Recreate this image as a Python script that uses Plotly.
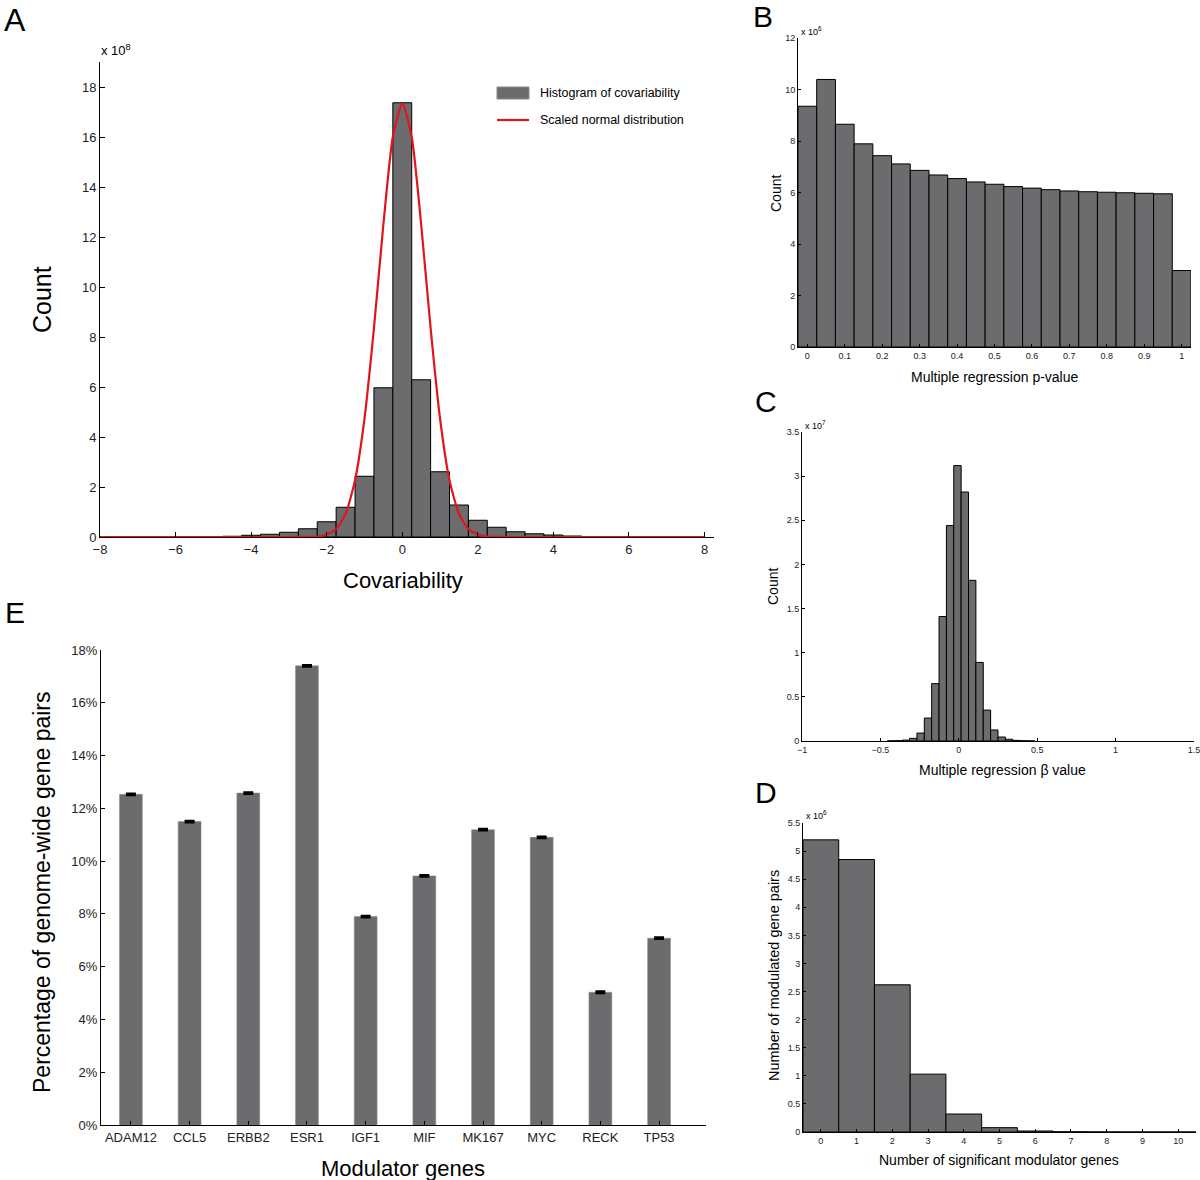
import plotly.graph_objects as go

# ---------------- Data ----------------
# Panel A: histogram of covariability (x 10^8)
a_centers = [-5.5, -5.0, -4.5, -4.0, -3.5, -3.0, -2.5, -2.0, -1.5, -1.0, -0.5, 0.0,
             0.5, 1.0, 1.5, 2.0, 2.5, 3.0, 3.5, 4.0, 4.5, 5.0, 5.5]
a_counts = [0.01, 0.02, 0.03, 0.07, 0.11, 0.19, 0.33, 0.61, 1.19, 2.43, 5.97, 17.37,
            6.29, 2.61, 1.28, 0.67, 0.39, 0.21, 0.13, 0.08, 0.04, 0.02, 0.01]
# Scaled normal curve
a_curve_x = [-8, -5, -3, -2.5, -2.25, -2.0, -1.75, -1.5, -1.25, -1.0, -0.75, -0.5, -0.25, 0.0,
             0.25, 0.5, 0.75, 1.0, 1.25, 1.5, 1.75, 2.0, 2.25, 2.5, 3, 5, 8]
a_curve_y = [0, 0, 0, 0.005, 0.02, 0.10, 0.32, 0.93, 2.27, 4.73, 8.35, 12.5, 16.0, 17.35,
             16.0, 12.5, 8.35, 4.73, 2.27, 0.93, 0.32, 0.10, 0.02, 0.005, 0, 0, 0]

# Panel B: multiple regression p-value histogram (x 10^6)
b_centers = [0.0, 0.05, 0.1, 0.15, 0.2, 0.25, 0.3, 0.35, 0.4, 0.45, 0.5,
             0.55, 0.6, 0.65, 0.7, 0.75, 0.8, 0.85, 0.9, 0.95, 1.0]
b_counts = [9.35, 10.39, 8.65, 7.89, 7.43, 7.11, 6.86, 6.68, 6.54, 6.41, 6.32,
            6.23, 6.17, 6.11, 6.06, 6.03, 6.01, 5.99, 5.97, 5.95, 2.97]

# Panel C: multiple regression beta value histogram (x 10^7)
c_centers = [-0.4315, -0.3845, -0.3375, -0.2905, -0.2435, -0.1965, -0.1495, -0.1025, -0.0555,
             -0.0085, 0.0385, 0.0855, 0.1325, 0.1795, 0.2265, 0.2735, 0.3205, 0.3675, 0.4145, 0.4615]
c_counts = [0.002, 0.004, 0.01, 0.03, 0.09, 0.26, 0.65, 1.41, 2.44,
            3.12, 2.82, 1.82, 0.89, 0.35, 0.125, 0.045, 0.02, 0.007, 0.003, 0.001]
c_binwidth = 0.047

# Panel D: number of significant modulator genes (x 10^6)
d_centers = [0, 1, 2, 3, 4, 5, 6, 7, 8, 9, 10]
d_counts = [5.2, 4.85, 2.62, 1.03, 0.32, 0.077, 0.018, 0.004, 0.001, 0.0, 0.0]

# Panel E: modulator genes
e_genes = ["ADAM12", "CCL5", "ERBB2", "ESR1", "IGF1", "MIF", "MK167", "MYC", "RECK", "TP53"]
e_values = [12.53, 11.50, 12.58, 17.40, 7.90, 9.44, 11.19, 10.90, 5.03, 7.08]
e_errors = [0.03, 0.03, 0.03, 0.03, 0.03, 0.03, 0.03, 0.03, 0.03, 0.03]
e_ticks = [0, 2, 4, 6, 8, 10, 12, 14, 16, 18]

# ---------------- Styling ----------------
W, H = 1200, 1180
FONT = "Liberation Sans, Arial, sans-serif"
GRAY = "#6c6c6e"
RED = "#e3131b"


def px(x):
    return x / W


def py(y):
    return 1 - y / H


fig = go.Figure()

# Panel A
fig.add_trace(go.Bar(x=a_centers, y=a_counts, width=0.5, marker=dict(color=GRAY, line=dict(color="black", width=1)),
                     xaxis="x", yaxis="y", showlegend=False))
fig.add_trace(go.Scatter(x=a_curve_x, y=a_curve_y, mode="lines", line=dict(color=RED, width=2.2, shape="spline", smoothing=0.6),
                         xaxis="x", yaxis="y", showlegend=False))
# Panel B
fig.add_trace(go.Bar(x=b_centers, y=b_counts, width=0.05, marker=dict(color=GRAY, line=dict(color="black", width=1)),
                     xaxis="x2", yaxis="y2", showlegend=False))
# Panel C
fig.add_trace(go.Bar(x=c_centers, y=c_counts, width=c_binwidth, marker=dict(color=GRAY, line=dict(color="black", width=1)),
                     xaxis="x3", yaxis="y3", showlegend=False))
# Panel D
fig.add_trace(go.Bar(x=d_centers, y=d_counts, width=1, marker=dict(color=GRAY, line=dict(color="black", width=1)),
                     xaxis="x4", yaxis="y4", showlegend=False))
# Panel E
fig.add_trace(go.Bar(x=e_genes, y=e_values, width=0.39, marker=dict(color=GRAY, line=dict(color="#8a8a8c", width=0.5)),
                     error_y=dict(type="data", array=e_errors, color="black", thickness=2.2, width=5),
                     xaxis="x5", yaxis="y5", showlegend=False))


def axis(domain, anchor, rng, tickvals=None, ticklen=5, size=13, **kw):
    d = dict(domain=domain, anchor=anchor, range=rng, showline=True, linecolor="black", linewidth=1,
             ticks="inside", ticklen=ticklen, tickcolor="black", tickwidth=1, showgrid=False, zeroline=False,
             tickfont=dict(family=FONT, size=size, color="#222"), fixedrange=True,
             ticklabeloverflow="allow", automargin=False)
    if tickvals is not None:
        d["tickvals"] = tickvals
    d.update(kw)
    return d


layout = dict(
    width=W, height=H, margin=dict(l=0, r=0, t=0, b=0, pad=0), autosize=False,
    paper_bgcolor="white", plot_bgcolor="white", bargap=0,
    font=dict(family=FONT, color="black"),
    # A
    xaxis=axis([px(100), px(714)], "y", [-8, 8.25], [-8, -6, -4, -2, 0, 2, 4, 6, 8], 5, 13),
    yaxis=axis([py(537), py(62)], "x", [0, 19], [0, 2, 4, 6, 8, 10, 12, 14, 16, 18], 5, 13),
    # B
    xaxis2=axis([px(798), px(1191)], "y2", [-0.025, 1.025], [0, 0.1, 0.2, 0.3, 0.4, 0.5, 0.6, 0.7, 0.8, 0.9, 1], 3, 9),
    yaxis2=axis([py(347), py(38)], "x2", [0, 12], [0, 2, 4, 6, 8, 10, 12], 3, 9),
    # C
    xaxis3=axis([px(802), px(1194)], "y3", [-1, 1.5], [-1, -0.5, 0, 0.5, 1, 1.5], 3, 9),
    yaxis3=axis([py(741), py(432)], "x3", [0, 3.5], [0, 0.5, 1, 1.5, 2, 2.5, 3, 3.5], 3, 9),
    # D
    xaxis4=axis([px(803), px(1196)], "y4", [-0.5, 10.5], [0, 1, 2, 3, 4, 5, 6, 7, 8, 9, 10], 3, 9),
    yaxis4=axis([py(1132), py(823)], "x4", [0, 5.5], [0, 0.5, 1, 1.5, 2, 2.5, 3, 3.5, 4, 4.5, 5, 5.5], 3, 9),
    # E
    xaxis5=axis([px(101), px(706)], "y5", [-0.51, 9.8], None, 4, 13, type="category"),
    yaxis5=axis([py(1125), py(650)], "x5", [0, 18], e_ticks, 4, 13,
                ticktext=[f"{v}%" for v in e_ticks]),
)
fig.update_layout(**layout)

ann = []


def text(x, y, t, size, xanchor="center", yanchor="middle", angle=0):
    ann.append(dict(x=px(x), y=py(y), xref="paper", yref="paper", text=t, showarrow=False,
                    xanchor=xanchor, yanchor=yanchor, textangle=angle,
                    font=dict(family=FONT, size=size, color="black")))


# panel letters
text(2, 20, "A", 32, "left")
text(751, 16, "B", 30, "left")
text(753, 401, "C", 30, "left")
text(753, 792, "D", 30, "left")
text(3, 612, "E", 30, "left")

# multipliers
text(99, 50, "x 10<sup>8</sup>", 13, "left")
text(799, 31, "x 10<sup>6</sup>", 9, "left")
text(803, 425, "x 10<sup>7</sup>", 9, "left")
text(804, 815, "x 10<sup>6</sup>", 9, "left")

# axis titles
text(42, 300, "Count", 25, angle=-90)
text(403, 580, "Covariability", 22)
text(776, 193, "Count", 14, angle=-90)
text(995, 377, "Multiple regression p-value", 14)
text(773, 587, "Count", 14, angle=-90)
text(1002, 770, "Multiple regression β value", 14)
text(774, 976, "Number of modulated gene pairs", 14.5, angle=-90)
text(999, 1160, "Number of significant modulator genes", 14)
text(42, 893, "Percentage of genome-wide gene pairs", 23, angle=-90)
text(403, 1168, "Modulator genes", 22)

# legend for panel A
text(538, 93, "Histogram of covariability", 12.5, "left")
text(538, 120, "Scaled normal distribution", 12.5, "left")
fig.update_layout(annotations=ann)
fig.add_shape(type="rect", xref="paper", yref="paper", x0=px(497), x1=px(529), y0=py(99), y1=py(87),
              fillcolor=GRAY, line=dict(color="#8a8a8c", width=1))
fig.add_shape(type="line", xref="paper", yref="paper", x0=px(497), x1=px(529), y0=py(120), y1=py(120),
              line=dict(color=RED, width=2.2))

fig.write_html("out.html",
               config={"displayModeBar": False, "staticPlot": True},
               post_script="document.body.style.margin='0';document.body.style.padding='0';"
                           "document.body.style.overflow='hidden';")
